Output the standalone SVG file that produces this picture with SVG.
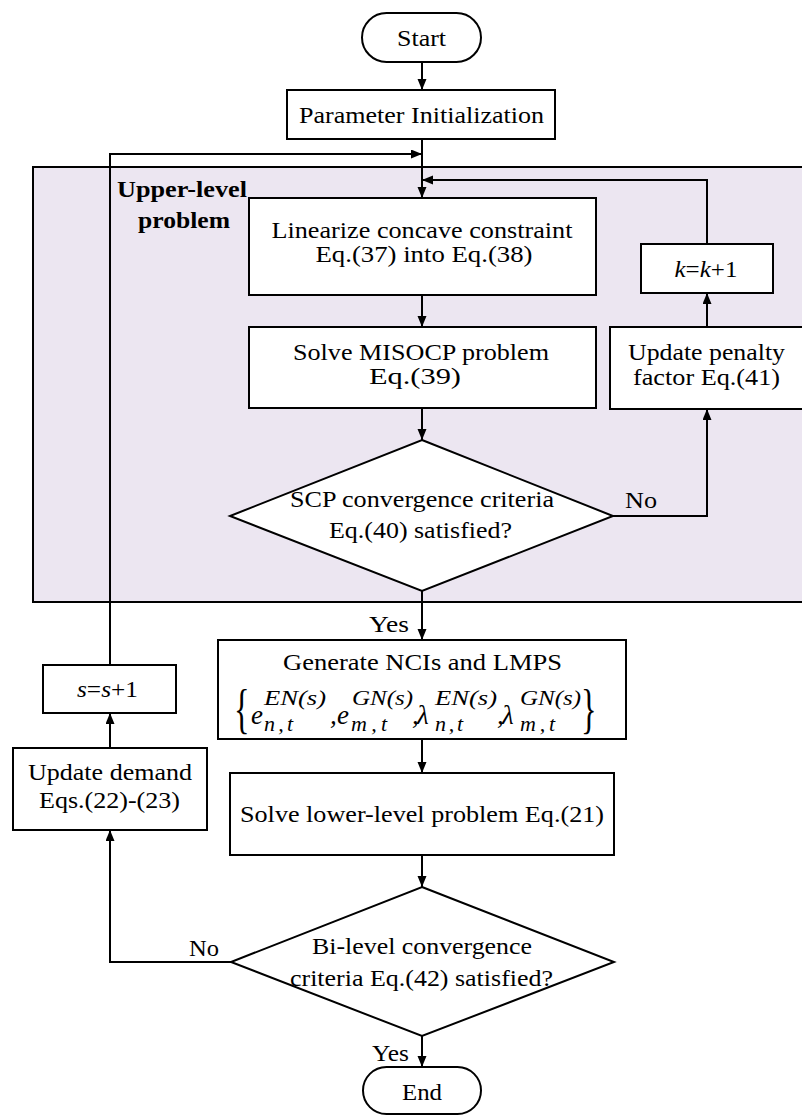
<svg xmlns="http://www.w3.org/2000/svg" width="802" height="1115" viewBox="0 0 802 1115">
  <defs>
    <marker id="arrow" markerUnits="userSpaceOnUse" markerWidth="11" markerHeight="10" refX="11" refY="4.5" orient="auto">
      <path d="M0,0 L11,4.5 L0,9 z" fill="#000"/>
    </marker>
    <style>
      .box { fill: #fff; stroke: #000; stroke-width: 2; }
      .panel { fill: #ece6f1; stroke: #000; stroke-width: 2; }
      .edge { fill: none; stroke: #000; stroke-width: 2; marker-end: url(#arrow); }
      text { font-family: "Liberation Serif", "Times New Roman", serif; fill: #000; }
      .t { font-size: 23px; text-anchor: middle; }
      .lbl { font-size: 23px; }
      .bold { font-size: 24px; font-weight: bold; text-anchor: middle; }
      .m { font-size: 27px; font-style: italic; }
      .sup { font-size: 21px; font-style: italic; }
      .sub { font-size: 22px; font-style: italic; }
      .br { font-size: 54px; }
    </style>
  </defs>

  <rect width="802" height="1115" fill="#fff"/>

  <!-- upper-level region -->
  <g id="upper-level">
    <rect class="panel" x="33" y="167" width="800" height="435"/>
    <text class="bold" x="182" y="197" textLength="130" lengthAdjust="spacingAndGlyphs">Upper-level</text>
    <text class="bold" x="184" y="228" textLength="92" lengthAdjust="spacingAndGlyphs">problem</text>
  </g>

  <!-- connectors -->
  <g id="connectors">
    <path class="edge" d="M422,62 V90"/>
    <path class="edge" d="M422,139 V198"/>
    <path class="edge" d="M110,665 V154 H422"/>
    <path class="edge" d="M707,244 V180 H422"/>
    <path class="edge" d="M422,295 V327"/>
    <path class="edge" d="M422,408 V440"/>
    <path class="edge" d="M613,516 H707 V409"/>
    <path class="edge" d="M707,327 V293"/>
    <path class="edge" d="M422,591 V640"/>
    <path class="edge" d="M422,739 V773"/>
    <path class="edge" d="M422,855 V887"/>
    <path class="edge" d="M231,962 H110 V830"/>
    <path class="edge" d="M110,748 V713"/>
    <path class="edge" d="M422,1036 V1067"/>
    <text class="lbl" x="625" y="508" textLength="32" lengthAdjust="spacingAndGlyphs">No</text>
    <text class="lbl" x="369" y="632" textLength="40" lengthAdjust="spacingAndGlyphs">Yes</text>
    <text class="lbl" x="189" y="956" textLength="30" lengthAdjust="spacingAndGlyphs">No</text>
    <text class="lbl" x="372" y="1061" textLength="37" lengthAdjust="spacingAndGlyphs">Yes</text>
  </g>

  <g id="start">
    <rect class="box" x="362" y="13" width="119" height="49" rx="24.5"/>
    <text class="t" x="421.5" y="46" textLength="49" lengthAdjust="spacingAndGlyphs">Start</text>
  </g>

  <g id="param-init">
    <rect class="box" x="287" y="90" width="268" height="49"/>
    <text class="t" x="421.5" y="123" textLength="245" lengthAdjust="spacingAndGlyphs">Parameter Initialization</text>
  </g>

  <g id="linearize">
    <rect class="box" x="249" y="198" width="347" height="97"/>
    <text class="t" x="422" y="238" textLength="301" lengthAdjust="spacingAndGlyphs">Linearize concave constraint</text>
    <text class="t" x="424" y="262" textLength="217" lengthAdjust="spacingAndGlyphs">Eq.(37) into Eq.(38)</text>
  </g>

  <g id="solve-misocp">
    <rect class="box" x="249" y="327" width="347" height="81"/>
    <text class="t" x="421" y="360" textLength="256" lengthAdjust="spacingAndGlyphs">Solve MISOCP problem</text>
    <text class="t" x="415" y="384" textLength="92" lengthAdjust="spacingAndGlyphs">Eq.(39)</text>
  </g>

  <g id="k-increment">
    <rect class="box" x="641" y="244" width="132" height="49"/>
    <text class="t" x="706" y="277" textLength="63" lengthAdjust="spacingAndGlyphs"><tspan font-style="italic">k</tspan>=<tspan font-style="italic">k</tspan>+1</text>
  </g>

  <g id="update-penalty">
    <rect class="box" x="610" y="327" width="210" height="82"/>
    <text class="t" x="706.5" y="360" textLength="157" lengthAdjust="spacingAndGlyphs">Update penalty</text>
    <text class="t" x="706.5" y="385" textLength="147" lengthAdjust="spacingAndGlyphs">factor Eq.(41)</text>
  </g>

  <g id="scp-check">
    <polygon class="box" points="422,440 613,516 422,591 230,516"/>
    <text class="t" x="422" y="507" textLength="264" lengthAdjust="spacingAndGlyphs">SCP convergence criteria</text>
    <text class="t" x="420.5" y="538" textLength="183" lengthAdjust="spacingAndGlyphs">Eq.(40) satisfied?</text>
  </g>

  <g id="generate">
    <rect class="box" x="218" y="640" width="408" height="99"/>
    <text class="t" x="422.5" y="670" textLength="279" lengthAdjust="spacingAndGlyphs">Generate NCIs  and LMPS</text>
    <!-- set of nodal carbon intensities and prices -->
    <text class="br" transform="translate(234,727) scale(0.6,1)">{</text>
    <text class="m" x="251" y="724">e</text>
    <text class="sup" x="264" y="705" textLength="62" lengthAdjust="spacingAndGlyphs">EN(s)</text>
    <text class="sub" x="264" y="731" textLength="29" lengthAdjust="spacing">n,t</text>
    <text class="m" x="330" y="724" font-style="normal">,</text>
    <text class="m" x="337" y="724">e</text>
    <text class="sup" x="352" y="705" textLength="61" lengthAdjust="spacingAndGlyphs">GN(s)</text>
    <text class="sub" x="351" y="731" textLength="36" lengthAdjust="spacing">m,t</text>
    <text class="m" x="412" y="724" font-style="normal">,</text>
    <text class="m" x="417" y="724">λ</text>
    <text class="sup" x="435" y="705" textLength="62" lengthAdjust="spacingAndGlyphs">EN(s)</text>
    <text class="sub" x="435" y="731" textLength="28" lengthAdjust="spacing">n,t</text>
    <text class="m" x="497" y="724" font-style="normal">,</text>
    <text class="m" x="502" y="724">λ</text>
    <text class="sup" x="520" y="705" textLength="61" lengthAdjust="spacingAndGlyphs">GN(s)</text>
    <text class="sub" x="520" y="731" textLength="35" lengthAdjust="spacing">m,t</text>
    <text class="br" transform="translate(581,727) scale(0.6,1)">}</text>
  </g>

  <g id="solve-lower">
    <rect class="box" x="230" y="773" width="384" height="82"/>
    <text class="t" x="422" y="822" textLength="364" lengthAdjust="spacingAndGlyphs">Solve lower-level problem Eq.(21)</text>
  </g>

  <g id="bilevel-check">
    <polygon class="box" points="422,887 614,962 422,1036 231,962"/>
    <text class="t" x="422" y="954" textLength="220" lengthAdjust="spacingAndGlyphs">Bi-level convergence</text>
    <text class="t" x="421.5" y="986" textLength="263" lengthAdjust="spacingAndGlyphs">criteria Eq.(42) satisfied?</text>
  </g>

  <g id="end">
    <rect class="box" x="363" y="1067" width="118" height="47" rx="23.5"/>
    <text class="t" x="422" y="1100" textLength="40" lengthAdjust="spacingAndGlyphs">End</text>
  </g>

  <g id="update-demand">
    <rect class="box" x="13" y="748" width="194" height="82"/>
    <text class="t" x="110" y="780" textLength="164" lengthAdjust="spacingAndGlyphs">Update demand</text>
    <text class="t" x="109.5" y="808" textLength="141" lengthAdjust="spacingAndGlyphs">Eqs.(22)-(23)</text>
  </g>

  <g id="s-increment">
    <rect class="box" x="43" y="665" width="133" height="48"/>
    <text class="t" x="107.5" y="697" textLength="61" lengthAdjust="spacingAndGlyphs"><tspan font-style="italic">s</tspan>=<tspan font-style="italic">s</tspan>+1</text>
  </g>
</svg>
